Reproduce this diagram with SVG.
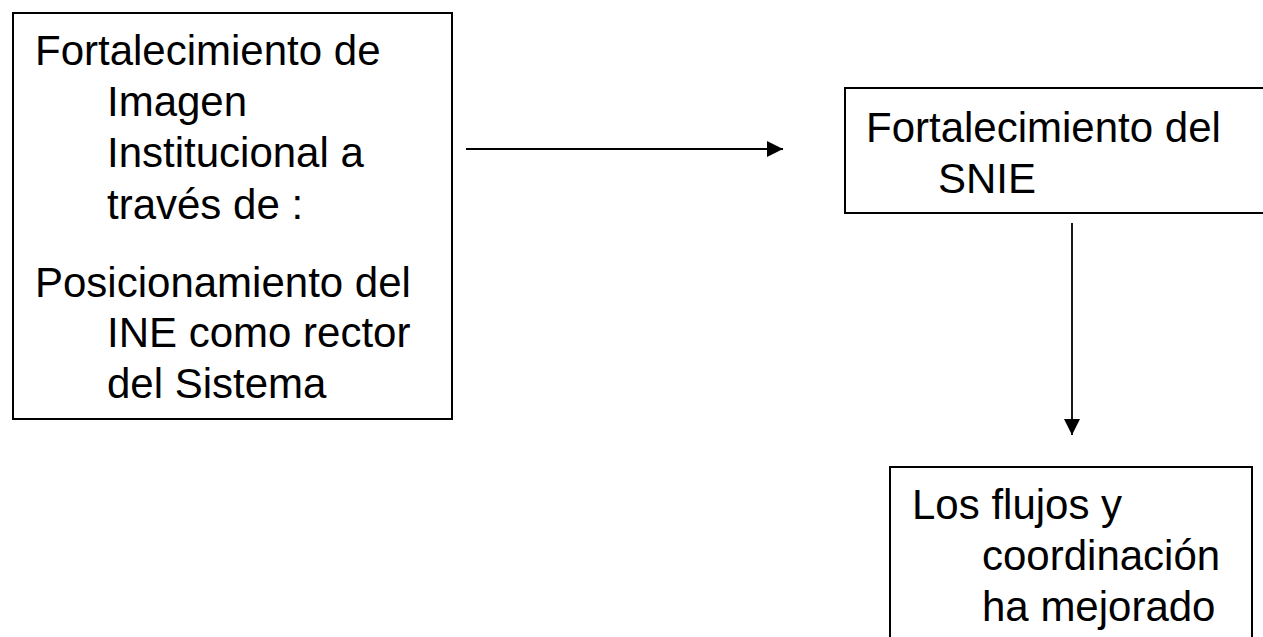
<svg xmlns="http://www.w3.org/2000/svg" width="1263" height="637" viewBox="0 0 1263 637">
<defs>
<style>
.box{fill:#fff;stroke:#000;stroke-width:2}
.t{font-family:"Liberation Sans",Arial,sans-serif;font-size:42px;fill:#000}
.c{stroke:#000;stroke-width:1.8;fill:none}
</style>
<marker id="ah" markerUnits="userSpaceOnUse" markerWidth="16" markerHeight="16" viewBox="0 0 16 16" refX="16" refY="8" orient="auto">
<path d="M0,0 L16,8 L0,16 Z" fill="#000"/>
</marker>
</defs>
<rect width="1263" height="637" fill="#fff"/>
<g id="node-imagen">
<rect class="box" x="13" y="13" width="439" height="406"/>
<text class="t"><tspan x="35" y="65">Fortalecimiento de</tspan><tspan x="107" y="116">Imagen</tspan><tspan x="107" y="167">Institucional a</tspan><tspan x="107" y="219">través de :</tspan><tspan x="35" y="297">Posicionamiento del</tspan><tspan x="107" y="347">INE como rector</tspan><tspan x="107" y="398">del Sistema</tspan></text>
</g>
<g id="node-snie">
<rect class="box" x="845" y="88" width="430" height="125"/>
<text class="t"><tspan x="866" y="142">Fortalecimiento del</tspan><tspan x="938" y="193">SNIE</tspan></text>
</g>
<g id="node-flujos">
<rect class="box" x="890" y="467" width="362" height="190"/>
<text class="t"><tspan x="912" y="519">Los flujos y</tspan><tspan x="982" y="570">coordinación</tspan><tspan x="982" y="621">ha mejorado</tspan></text>
</g>
<g id="connectors">
<line class="c" x1="466" y1="149" x2="783" y2="149" marker-end="url(#ah)"/>
<line class="c" x1="1072" y1="223" x2="1072" y2="435" marker-end="url(#ah)"/>
</g>
</svg>
